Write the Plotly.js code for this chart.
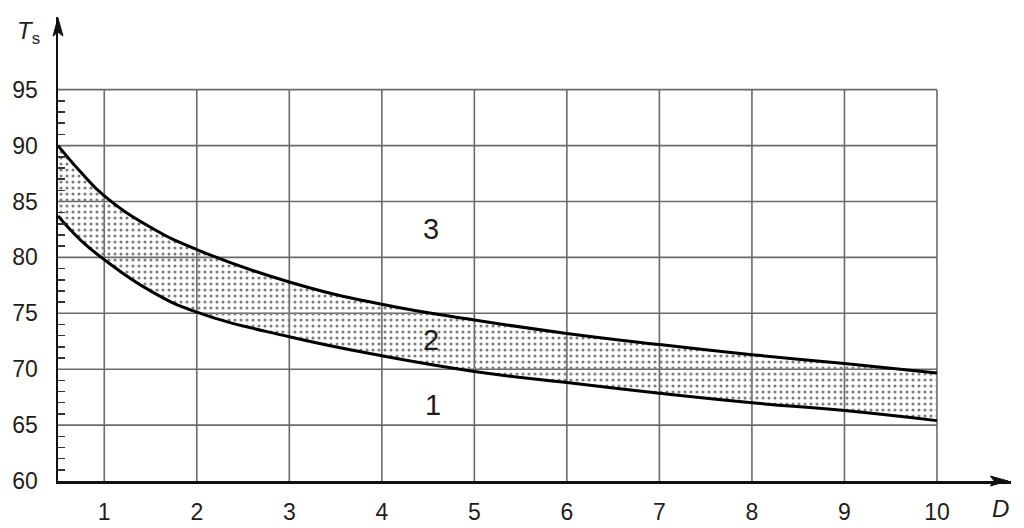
<!DOCTYPE html>
<html>
<head>
<meta charset="utf-8">
<script src="https://cdn.plot.ly/plotly-3.0.1.min.js"></script>
<style>html,body{margin:0;padding:0;background:#fff;}#chart{width:1024px;height:528px;}</style>
</head>
<body>
<div id="chart"></div>
<script>
// Data
const D = [0.5, 0.75, 1, 1.5, 2, 3, 4, 5, 6, 7, 8, 9, 10];
const upperTs = [90.0, 87.6, 85.5, 82.7, 80.7, 77.8, 75.8, 74.4, 73.2, 72.2, 71.3, 70.5, 69.65];
const lowerTs = [83.7, 81.5, 79.8, 77.0, 75.1, 72.9, 71.2, 69.8, 68.8, 67.85, 67.0, 66.3, 65.4];
const xTickVals = [1, 2, 3, 4, 5, 6, 7, 8, 9, 10];
const xTickText = ['1', '2', '3', '4', '5', '6', '7', '8', '9', '10'];
const yTickVals = [60, 65, 70, 75, 80, 85, 90, 95];
const yTickText = ['60', '65', '70', '75', '80', '85', '90', '95'];
const yMinorVals = [61,62,63,64,66,67,68,69,71,72,73,74,76,77,78,79,81,82,83,84,86,87,88,89,91,92,93,94];
const regionLabels = ['1', '2', '3'];
const regionX = [4.55, 4.53, 4.53];
const regionY = [66.8, 72.6, 82.5];
const xGridVals = [1, 2, 3, 4, 5, 6, 7, 8, 9, 10];
const yGridVals = [65, 70, 75, 80, 85, 90, 95];

const xMin = 0.5, xMax = 10.8, yMin = 60, yMax = 101.5, gridXEnd = 10, gridYEnd = 95;
const gridColor = '#6a6a6a';
const textColor = '#1e1e1e';
const fam = 'Liberation Sans, Arial, sans-serif';

const traces = [
  {x: D, y: lowerTs, mode: 'lines', line: {color: '#000', width: 3, shape: 'spline', smoothing: 1.3}, hoverinfo: 'skip', showlegend: false},
  {x: D, y: upperTs, mode: 'lines', line: {color: '#000', width: 3, shape: 'spline', smoothing: 1.3},
   fill: 'tonexty', fillcolor: 'rgba(0,0,0,0)',
   fillpattern: {shape: '.', fgcolor: '#7e7e7e', bgcolor: 'rgba(0,0,0,0)', size: 6, solidity: 0.22},
   hoverinfo: 'skip', showlegend: false}
];

const shapes = [];
xGridVals.forEach(v => shapes.push({type: 'line', xref: 'x', yref: 'y', x0: v, x1: v, y0: yMin, y1: gridYEnd, line: {color: gridColor, width: 1.6}, layer: 'below'}));
yGridVals.forEach(v => shapes.push({type: 'line', xref: 'x', yref: 'y', x0: xMin, x1: gridXEnd, y0: v, y1: v, line: {color: gridColor, width: 1.6}, layer: 'below'}));
// axis arrowheads: anchored in paper space at the axis ends, sized in pixels
const xTipPaper = (10.77 - xMin) / (xMax - xMin);
const yTipPaper = (101.4 - yMin) / (yMax - yMin);
shapes.push({type: 'path', xref: 'paper', yref: 'paper', xsizemode: 'pixel', ysizemode: 'pixel',
  xanchor: xTipPaper, yanchor: 0, path: 'M 0 0 L -18 5 L -14 0 L -18 -5 Z',
  fillcolor: '#111', line: {color: '#111', width: 1}, layer: 'above'});
shapes.push({type: 'path', xref: 'paper', yref: 'paper', xsizemode: 'pixel', ysizemode: 'pixel',
  xanchor: 0, yanchor: yTipPaper, path: 'M 0 0 L -5 -18 L 0 -14 L 5 -18 Z',
  fillcolor: '#111', line: {color: '#111', width: 1}, layer: 'above'});

const annotations = [];
regionLabels.forEach((t, i) => annotations.push({x: regionX[i], y: regionY[i], xref: 'x', yref: 'y', text: t, showarrow: false, font: {family: fam, size: 29, color: textColor}}));
// axis titles
annotations.push({
  xref: 'paper', yref: 'paper', x: -0.031, y: 1.005, xanchor: 'center', yanchor: 'top',
  text: '<i>T</i><sub>s</sub>', showarrow: false, font: {family: fam, size: 24, color: textColor}
});
annotations.push({
  xref: 'paper', yref: 'paper', x: 1.0, y: -0.025, xanchor: 'right', yanchor: 'top',
  text: '<i>D</i>', showarrow: false, font: {family: fam, size: 24, color: textColor}
});

const layout = {
  width: 1024, height: 528,
  margin: {l: 58, r: 13, t: 17, b: 47, pad: 0},
  paper_bgcolor: '#fff', plot_bgcolor: '#fff',
  font: {family: fam, color: textColor},
  showlegend: false,
  xaxis: {
    range: [xMin, xMax], showgrid: false, zeroline: false,
    showline: true, linecolor: '#111', linewidth: 2.5,
    tickmode: 'array', tickvals: xTickVals, ticktext: xTickText,
    ticks: '', ticklen: 0, ticklabelstandoff: 9,
    tickfont: {size: 23, color: textColor}
  },
  yaxis: {
    range: [yMin, yMax], showgrid: false, zeroline: false,
    showline: true, linecolor: '#111', linewidth: 2.5,
    tickmode: 'array', tickvals: yTickVals, ticktext: yTickText,
    ticks: '', ticklen: 0, ticklabelstandoff: 13,
    tickfont: {size: 23, color: textColor},
    minor: {tickmode: 'array', tickvals: yMinorVals, ticks: 'inside', ticklen: 7, tickwidth: 1.5, tickcolor: '#333', showgrid: false}
  },
  shapes: shapes,
  annotations: annotations
};

Plotly.newPlot('chart', traces, layout, {staticPlot: true, displayModeBar: false});
</script>
</body>
</html>
